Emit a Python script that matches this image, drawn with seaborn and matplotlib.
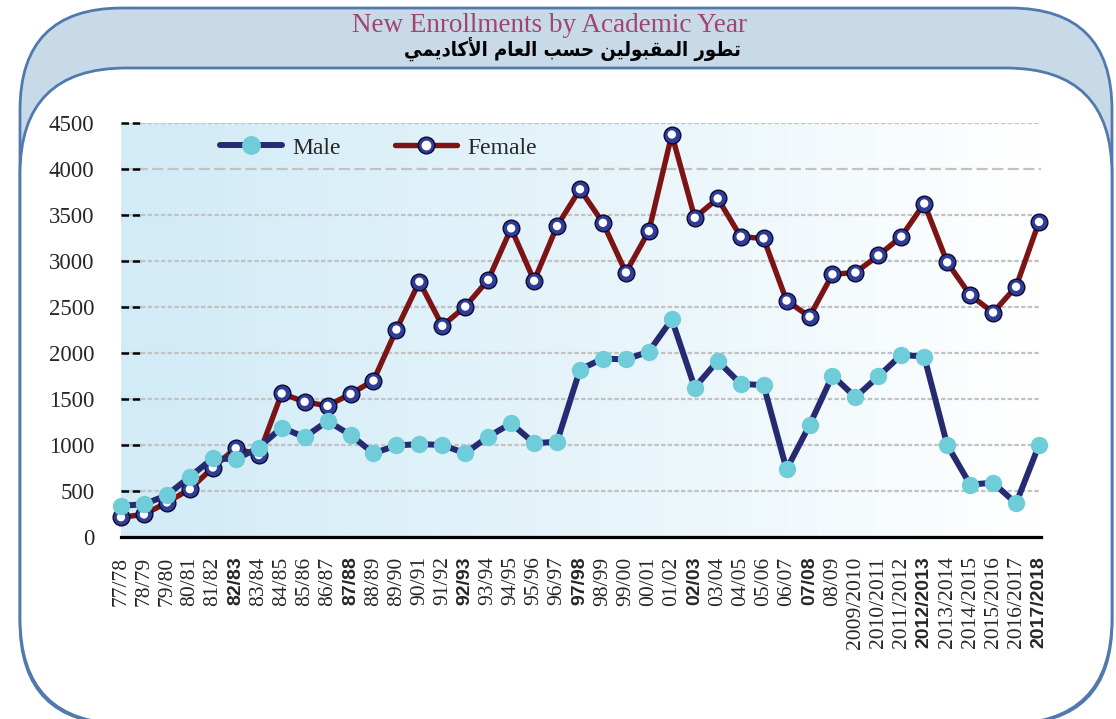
import numpy as np
import pandas as pd
import matplotlib
matplotlib.use("Agg")
import matplotlib.pyplot as plt
import seaborn as sns
from matplotlib.patches import FancyBboxPatch
from matplotlib.lines import Line2D
from matplotlib.legend_handler import HandlerTuple

# ---------------- data ----------------
years = ["77/78", "78/79", "79/80", "80/81", "81/82", "82/83", "83/84", "84/85", "85/86",
         "86/87", "87/88", "88/89", "89/90", "90/91", "91/92", "92/93", "93/94", "94/95",
         "95/96", "96/97", "97/98", "98/99", "99/00", "00/01", "01/02", "02/03", "03/04",
         "04/05", "05/06", "06/07", "07/08", "08/09", "2009/2010", "2010/2011", "2011/2012",
         "2012/2013", "2013/2014", "2014/2015", "2015/2016", "2016/2017", "2017/2018"]
bold_years = ["82/83", "87/88", "92/93", "97/98", "02/03", "07/08", "2012/2013", "2017/2018"]

male = [340, 355, 455, 655, 855, 845, 970, 1190, 1085, 1260, 1110, 910, 995, 1010, 1000,
        910, 1090, 1235, 1020, 1035, 1820, 1940, 1930, 2015, 2365, 1625, 1915, 1665, 1650,
        735, 1215, 1755, 1520, 1745, 1980, 1960, 1000, 570, 590, 365, 1000]
female = [215, 245, 375, 520, 755, 965, 890, 1560, 1470, 1425, 1555, 1700, 2255, 2775, 2295,
          2505, 2795, 3355, 2785, 3380, 3780, 3415, 2875, 3325, 4375, 3470, 3680, 3265, 3245,
          2570, 2395, 2855, 2875, 3060, 3265, 3625, 2985, 2630, 2440, 2720, 3425]
yticks = [0, 500, 1000, 1500, 2000, 2500, 3000, 3500, 4000, 4500]
series_names = ["Male", "Female"]
title_en = "New Enrollments by Academic Year"
title_ar = "تطور المقبولين حسب العام الأكاديمي"

# ---------------- Arabic shaping (presentation forms, visual order) ----------------
AR_FORMS = {
    '\u0627': ('\uFE8D', '\uFE8E', None, None),
    '\u0623': ('\uFE83', '\uFE84', None, None),
    '\u0628': ('\uFE8F', '\uFE90', '\uFE91', '\uFE92'),
    '\u062A': ('\uFE95', '\uFE96', '\uFE97', '\uFE98'),
    '\u062D': ('\uFEA1', '\uFEA2', '\uFEA3', '\uFEA4'),
    '\u062F': ('\uFEA9', '\uFEAA', None, None),
    '\u0631': ('\uFEAD', '\uFEAE', None, None),
    '\u0633': ('\uFEB1', '\uFEB2', '\uFEB3', '\uFEB4'),
    '\u0637': ('\uFEC1', '\uFEC2', '\uFEC3', '\uFEC4'),
    '\u0639': ('\uFEC9', '\uFECA', '\uFECB', '\uFECC'),
    '\u0642': ('\uFED5', '\uFED6', '\uFED7', '\uFED8'),
    '\u0643': ('\uFED9', '\uFEDA', '\uFEDB', '\uFEDC'),
    '\u0644': ('\uFEDD', '\uFEDE', '\uFEDF', '\uFEE0'),
    '\u0645': ('\uFEE1', '\uFEE2', '\uFEE3', '\uFEE4'),
    '\u0646': ('\uFEE5', '\uFEE6', '\uFEE7', '\uFEE8'),
    '\u0648': ('\uFEED', '\uFEEE', None, None),
    '\u064A': ('\uFEF1', '\uFEF2', '\uFEF3', '\uFEF4'),
    'LA': ('\uFEFB', '\uFEFC', None, None),
    'LAH': ('\uFEF7', '\uFEF8', None, None),
}


def shape_arabic(s):
    toks = []
    i = 0
    while i < len(s):
        c = s[i]
        if c == '\u0644' and i + 1 < len(s) and s[i + 1] in ('\u0627', '\u0623'):
            toks.append('LA' if s[i + 1] == '\u0627' else 'LAH')
            i += 2
            continue
        toks.append(c)
        i += 1
    out = []
    n = len(toks)
    for k, t in enumerate(toks):
        if t not in AR_FORMS:
            out.append(t)
            continue
        f = AR_FORMS[t]
        dual = f[2] is not None
        pj = k > 0 and toks[k - 1] in AR_FORMS and AR_FORMS[toks[k - 1]][2] is not None
        nj = dual and k + 1 < n and toks[k + 1] in AR_FORMS
        if pj and nj:
            out.append(f[3])
        elif pj:
            out.append(f[1])
        elif nj:
            out.append(f[2])
        else:
            out.append(f[0])
    return ''.join(out)[::-1]


# ---------------- style ----------------
sns.set_theme(style="white")
plt.rcParams['font.family'] = ['Liberation Serif', 'DejaVu Sans']

NAVY = '#262A70'
CYAN = '#6ECDD9'
RED = '#7C1416'
BALL = '#2F3D98'
BORDER = '#5079AE'
BAND = '#C8D9E7'

W, H = 1116, 719
fig = plt.figure(figsize=(W / 100, H / 100), dpi=100)

# background frame
ax_bg = fig.add_axes([0, 0, 1, 1], zorder=0)
ax_bg.set_xlim(0, W)
ax_bg.set_ylim(H, 0)
ax_bg.axis('off')
ax_bg.add_patch(FancyBboxPatch((20, 8), 1092, 716, boxstyle='round,pad=0,rounding_size=102',
                               fc=BAND, ec=BORDER, lw=2))
ax_bg.add_patch(FancyBboxPatch((20, 68), 1092, 656, boxstyle='round,pad=0,rounding_size=106',
                               fc='white', ec=BORDER, lw=2))

fig.text(550 / W, 1 - 25 / H, title_en, ha='center', va='center', fontsize=19.5,
         family='Liberation Serif', color='#A0456F')
fig.text(741 / W, 1 - 49 / H, shape_arabic(title_ar), ha='right', va='center', fontsize=14.5,
         family='DejaVu Sans', weight='bold', stretch='condensed', color='black')

# main axes
ax = fig.add_axes([121 / W, (H - 537) / H, 920 / W, 414 / H], zorder=1)
ax.patch.set_alpha(0)

grad = np.linspace(0, 1, 256)[None, :]
cmap = matplotlib.colors.LinearSegmentedColormap.from_list('bg', ['#D1EBF7', '#E6F4FA', '#FFFFFF'])
ax.imshow(grad, extent=[0, 1, 0, 1], transform=ax.transAxes, aspect='auto', cmap=cmap,
          zorder=0, interpolation='bicubic')

idx = np.arange(len(years))
df = pd.DataFrame({'idx': idx, 'Male': male, 'Female': female})

# gridlines
for v in yticks:
    ls = (0, (5, 2)) if v == 4000 else (0, (2, 1))
    ax.axhline(v, color='#C2C2C2', lw=1.6, ls=ls, zorder=0.5)
    ax.plot([0, 0.022], [v, v], transform=ax.get_yaxis_transform(), color='black',
            lw=1.8, ls=(0, (3, 1.5)), zorder=0.6, clip_on=False)

# Female line
sns.lineplot(data=df, x='idx', y='Female', ax=ax, color=RED, lw=3.9, marker='o', ms=12,
             mfc=BALL, mec='#0A0A30', mew=1.0, sort=False, clip_on=False, zorder=3)
sns.scatterplot(data=df, x='idx', y='Female', ax=ax, s=36, color='white', edgecolor='none',
                linewidth=0, zorder=3.5, clip_on=False)
# Male line
sns.lineplot(data=df, x='idx', y='Male', ax=ax, color=NAVY, lw=4.3, marker='o', ms=12.5,
             mfc=CYAN, mec=CYAN, mew=0, sort=False, clip_on=False, zorder=4)

ax.set_xlim(0, 40 * 920 / 918)
ax.set_ylim(0, 4500)
ax.set_xlabel('')
ax.set_ylabel('')

ax.set_yticks(yticks)
ax.set_yticklabels([str(v) for v in yticks], fontsize=16.5, family='Liberation Serif')
ax.tick_params(axis='y', length=0, pad=19)

ax.set_xticks(idx)
ax.set_xticklabels(years, rotation=90, fontsize=15.5)
ax.tick_params(axis='x', length=0, pad=14)
for lab in ax.get_xticklabels():
    if lab.get_text() in bold_years:
        lab.set_fontfamily('Liberation Sans')
        lab.set_fontweight('bold')
        lab.set_fontsize(14)
    else:
        lab.set_fontfamily('Liberation Serif')

for s in ['left', 'top', 'right']:
    ax.spines[s].set_visible(False)
ax.spines['bottom'].set_color('black')
ax.spines['bottom'].set_linewidth(2.3)
ax.spines['bottom'].set_zorder(2)
ax.grid(False)

# legend
h_male = Line2D([], [], color=NAVY, lw=4.3, marker='o', ms=12.5, mfc=CYAN, mec=CYAN,
                solid_capstyle='round')
h_fem = (Line2D([], [], color=RED, lw=3.9, marker='o', ms=12, mfc=BALL, mec='#0A0A30', mew=1.0),
         Line2D([], [], ls='none', marker='o', ms=6, mfc='white', mec='white'))
leg = ax.legend([h_male, h_fem], series_names, loc='center left', bbox_to_anchor=(0.108, 0.94),
                ncol=2, frameon=False, handlelength=2.6, handletextpad=0.45,
                columnspacing=2.3, borderpad=0, borderaxespad=0,
                handler_map={tuple: HandlerTuple(ndivide=1, pad=0)},
                prop={'family': 'Liberation Serif', 'size': 17})

fig.savefig('out.png', dpi=100)
